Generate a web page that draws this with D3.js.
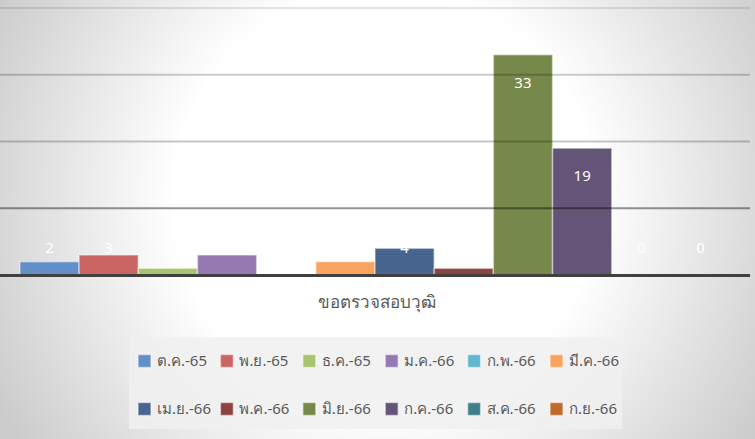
<!DOCTYPE html>
<html>
<head>
<meta charset="utf-8">
<script src="https://cdn.jsdelivr.net/npm/d3@7"></script>
<style>
  html, body { margin: 0; padding: 0; }
  svg { display: block; font-family: "Noto Sans", "DejaVu Sans", sans-serif; }
</style>
</head>
<body>
<svg></svg>
<script>
// Data
const category = 'ขอตรวจสอบวุฒิ'
const months = ['ต.ค.-65', 'พ.ย.-65', 'ธ.ค.-65', 'ม.ค.-66', 'ก.พ.-66', 'มี.ค.-66',
  'เม.ย.-66', 'พ.ค.-66', 'มิ.ย.-66', 'ก.ค.-66', 'ส.ค.-66', 'ก.ย.-66']
const values = [2, 3, 1, 3, 0, 2, 4, 1, 33, 19, 0, 0]
const colors = ['#638fc8', '#cb6563', '#a8c46e', '#9579b1', '#60b7cf', '#f8a35e',
  '#47658f', '#8b4442', '#76894a', '#635478', '#3f7f8c', '#c06a2a']
const yTicks = [10, 20, 30, 40]

// Initialization
const width = 755
const height = 439
const svg = d3.select('svg').attr('width', width).attr('height', height)

const bg = svg
  .append('defs')
  .append('radialGradient')
  .attr('id', 'bg-fill')
  .attr('gradientUnits', 'userSpaceOnUse')
  .attr('cx', 385)
  .attr('cy', 200)
  .attr('r', 440)
bg.append('stop').attr('offset', '0%').attr('stop-color', '#ffffff')
bg.append('stop').attr('offset', '48%').attr('stop-color', '#ffffff')
bg.append('stop').attr('offset', '100%').attr('stop-color', '#cbcbcb')
svg.append('rect').attr('width', width).attr('height', height).style('fill', 'url(#bg-fill)')

// Scales
const y = d3.scaleLinear().domain([0, 40]).range([275, 8])
const x0 = d3.scaleBand().domain([category]).range([0, 750]).paddingOuter(0.028)
const x1 = d3.scaleBand().domain(months).range([0, x0.bandwidth()])
const color = d3.scaleOrdinal().domain(months).range(colors)

// Bars
const rows = months.map((m, i) => ({ month: m, value: values[i] }))
const barGroup = svg.append('g').attr('transform', `translate(${x0(category)},0)`)
barGroup
  .selectAll('rect')
  .data(rows.filter((d) => d.value > 0))
  .enter()
  .append('rect')
  .attr('x', (d) => x1(d.month))
  .attr('y', (d) => y(d.value))
  .attr('width', x1.bandwidth())
  .attr('height', (d) => y(0) - y(d.value))
  .attr('fill', (d) => color(d.month))
  .attr('stroke', 'rgba(255,255,255,0.45)')
  .attr('stroke-width', 1.5)

// Gridlines (drawn over the bars, semi transparent)
const gridAlpha = { 10: 0.42, 20: 0.22, 30: 0.2, 40: 0.1 }
svg
  .append('g')
  .selectAll('line')
  .data(yTicks)
  .enter()
  .append('line')
  .attr('x1', 0)
  .attr('x2', 750)
  .attr('y1', (d) => y(d))
  .attr('y2', (d) => y(d))
  .attr('stroke', (d) => `rgba(0,0,0,${gridAlpha[d]})`)
  .attr('stroke-width', 2)

// Baseline
svg
  .append('line')
  .attr('x1', 0)
  .attr('x2', 750)
  .attr('y1', y(0) + 0.5)
  .attr('y2', y(0) + 0.5)
  .attr('stroke', '#404040')
  .attr('stroke-width', 3)

// Value labels
barGroup
  .selectAll('text')
  .data(rows)
  .enter()
  .append('text')
  .attr('x', (d) => x1(d.month) + x1.bandwidth() / 2)
  .attr('y', (d) => Math.min(y(d.value) + 28, y(0) - 27))
  .attr('dy', '0.35em')
  .attr('text-anchor', 'middle')
  .attr('fill', '#ffffff')
  .style('font-size', '15px')
  .text((d) => d.value)

// Axis title
svg
  .append('text')
  .attr('x', 377)
  .attr('y', 302)
  .attr('dy', '0.35em')
  .attr('text-anchor', 'middle')
  .attr('fill', '#595959')
  .style('font-size', '17px')
  .text(category)

// Legend
svg
  .append('rect')
  .attr('x', 129)
  .attr('y', 337)
  .attr('width', 493)
  .attr('height', 92)
  .attr('fill', '#f0f0f0')
  .attr('opacity', 0.85)

const legend = svg
  .append('g')
  .selectAll('g')
  .data(months)
  .enter()
  .append('g')
  .attr('transform', (d, i) => `translate(${137 + (i % 6) * 82.4},${i < 6 ? 361 : 409})`)
legend
  .append('rect')
  .attr('x', 1)
  .attr('y', -6.5)
  .attr('width', 13)
  .attr('height', 13)
  .attr('fill', (d) => color(d))
  .attr('stroke', 'rgba(255,255,255,0.5)')
  .attr('stroke-width', 1.5)
legend
  .append('text')
  .attr('x', 20)
  .attr('dy', '0.35em')
  .attr('fill', '#595959')
  .style('font-size', '15px')
  .text((d) => d)
</script>
</body>
</html>
